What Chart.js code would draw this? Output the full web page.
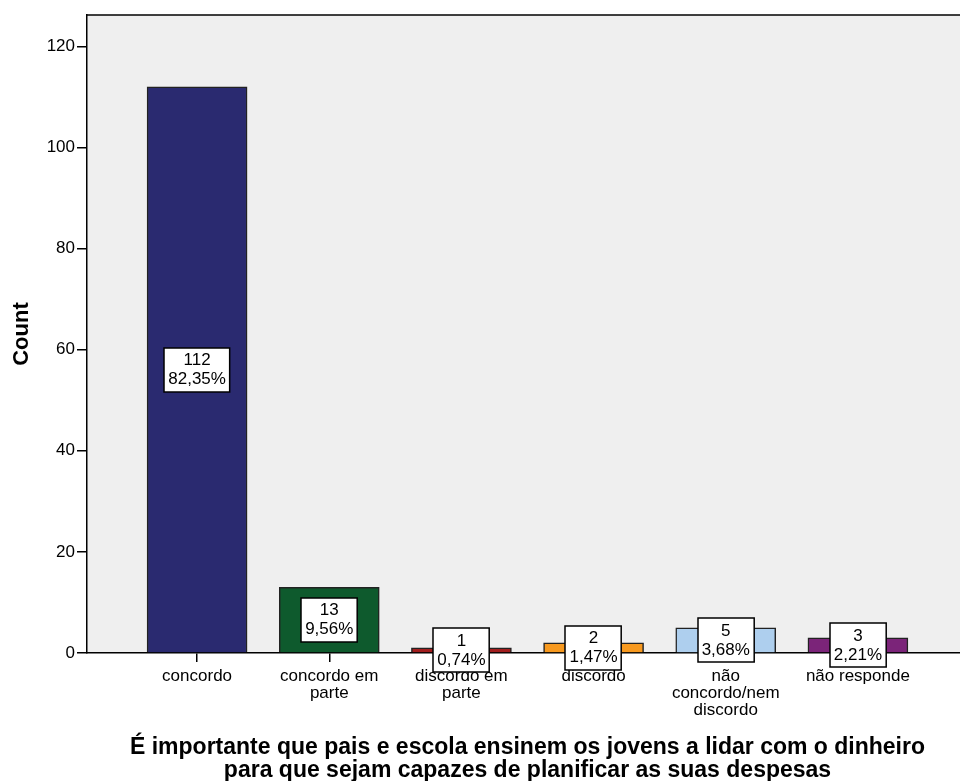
<!DOCTYPE html>
<html>
<head>
<meta charset="utf-8">
<script src="https://cdn.jsdelivr.net/npm/chart.js@4.4.1/dist/chart.umd.min.js"></script>
<style>
    html, body { margin: 0; padding: 0; background: #fff; overflow: hidden; }
    #chart { display: block; }
</style>
</head>
<body>
<canvas id="chart" width="975" height="781"></canvas>
<script>
// Data
const categories = [
    ['concordo'],
    ['concordo em', 'parte'],
    ['discordo em', 'parte'],
    ['discordo'],
    ['não', 'concordo/nem', 'discordo'],
    ['não responde']
];
const counts = [112, 13, 1, 2, 5, 3];
const barColors = ['#2a2a70', '#0e5a2d', '#a11d1d', '#f7991f', '#aecfee', '#7b2479'];
const yTicks = [0, 20, 40, 60, 80, 100, 120];
const xTitle = [
    'É importante que pais e escola ensinem os jovens a lidar com o dinheiro',
    'para que sejam capazes de planificar as suas despesas'
];

const total = counts.reduce((a, b) => a + b, 0);
const FONT = '"Liberation Sans", Arial, sans-serif';

/**
 * Plot background and top border
 */
const plotFrame = {
    id: 'plotFrame',
    beforeDraw(chart) {
        const { ctx, chartArea } = chart;
        ctx.save();
        ctx.fillStyle = '#efefef';
        ctx.fillRect(chartArea.left, chartArea.top, chartArea.right - chartArea.left, chartArea.bottom - chartArea.top);
        ctx.restore();
    },
    afterDraw(chart) {
        const { ctx, chartArea } = chart;
        ctx.save();
        ctx.strokeStyle = '#000';
        ctx.lineWidth = 1.5;
        ctx.beginPath();
        ctx.moveTo(chartArea.left, chartArea.top);
        ctx.lineTo(chartArea.right + 10, chartArea.top);
        ctx.stroke();
        ctx.restore();
    }
};

/**
 * Count / percent boxes in the middle of each bar
 */
const barBoxes = {
    id: 'barBoxes',
    afterDatasetsDraw(chart) {
        const { ctx } = chart;
        const meta = chart.getDatasetMeta(0);
        ctx.save();
        ctx.font = '17px ' + FONT;
        ctx.textAlign = 'center';
        ctx.textBaseline = 'middle';
        meta.data.forEach((bar, i) => {
            const pct = (counts[i] / total * 100).toFixed(2).replace('.', ',') + '%';
            const lines = [String(counts[i]), pct];
            const w = Math.max(...lines.map(l => ctx.measureText(l).width)) + 8;
            const h = 44;
            const cy = (bar.y + bar.base) / 2;
            const x0 = Math.round(bar.x - w / 2);
            const y0 = Math.round(cy - h / 2);
            ctx.fillStyle = '#fff';
            ctx.fillRect(x0, y0, w, h);
            ctx.strokeStyle = '#000';
            ctx.lineWidth = 1.5;
            ctx.strokeRect(x0, y0, w, h);
            ctx.fillStyle = '#000';
            ctx.fillText(lines[0], bar.x, cy - 9);
            ctx.fillText(lines[1], bar.x, cy + 10);
        });
        ctx.restore();
    }
};

new Chart(document.getElementById('chart').getContext('2d'), {
    type: 'bar',
    data: {
        datasets: [{
            data: counts.map((v, i) => ({ x: i, y: v })),
            backgroundColor: barColors,
            borderColor: '#222',
            borderWidth: 1.5,
            barThickness: 100
        }]
    },
    options: {
        responsive: false,
        animation: false,
        devicePixelRatio: 1,
        layout: { padding: { top: 15, right: 7, bottom: 0, left: 0 } },
        plugins: {
            legend: { display: false },
            tooltip: { enabled: false }
        },
        scales: {
            x: {
                type: 'linear',
                offset: false,
                min: -0.833,
                max: 5.833,
                afterBuildTicks: scale => {
                    scale.ticks = categories.map((c, i) => ({ value: i }));
                },
                afterFit: scale => { scale.height = 128; },
                grid: {
                    offset: false,
                    drawOnChartArea: false,
                    drawTicks: true,
                    tickLength: 9,
                    color: '#000',
                    lineWidth: 1.5
                },
                border: { color: '#000', width: 1.5 },
                ticks: {
                    autoSkip: false,
                    maxRotation: 0,
                    padding: 6,
                    color: '#000',
                    font: { family: FONT, size: 17, lineHeight: 1 },
                    callback: value => categories[value]
                },
                title: {
                    display: true,
                    text: xTitle,
                    color: '#000',
                    font: { family: FONT, size: 23, weight: 'bold', lineHeight: 1 },
                    padding: { top: 0, bottom: -1 }
                }
            },
            y: {
                min: 0,
                max: 126.2,
                afterBuildTicks: scale => {
                    scale.ticks = yTicks.map(v => ({ value: v }));
                },
                afterFit: scale => { scale.width = 87; },
                grid: {
                    drawOnChartArea: false,
                    drawTicks: true,
                    tickLength: 10,
                    color: '#000',
                    lineWidth: 1.5
                },
                border: { color: '#000', width: 1.5 },
                ticks: {
                    padding: 2,
                    color: '#000',
                    font: { family: FONT, size: 17 }
                },
                title: {
                    display: true,
                    text: 'Count',
                    color: '#000',
                    font: { family: FONT, size: 22, weight: 'bold' },
                    padding: { top: 9, bottom: 0 }
                }
            }
        }
    },
    plugins: [plotFrame, barBoxes]
});
</script>
</body>
</html>
